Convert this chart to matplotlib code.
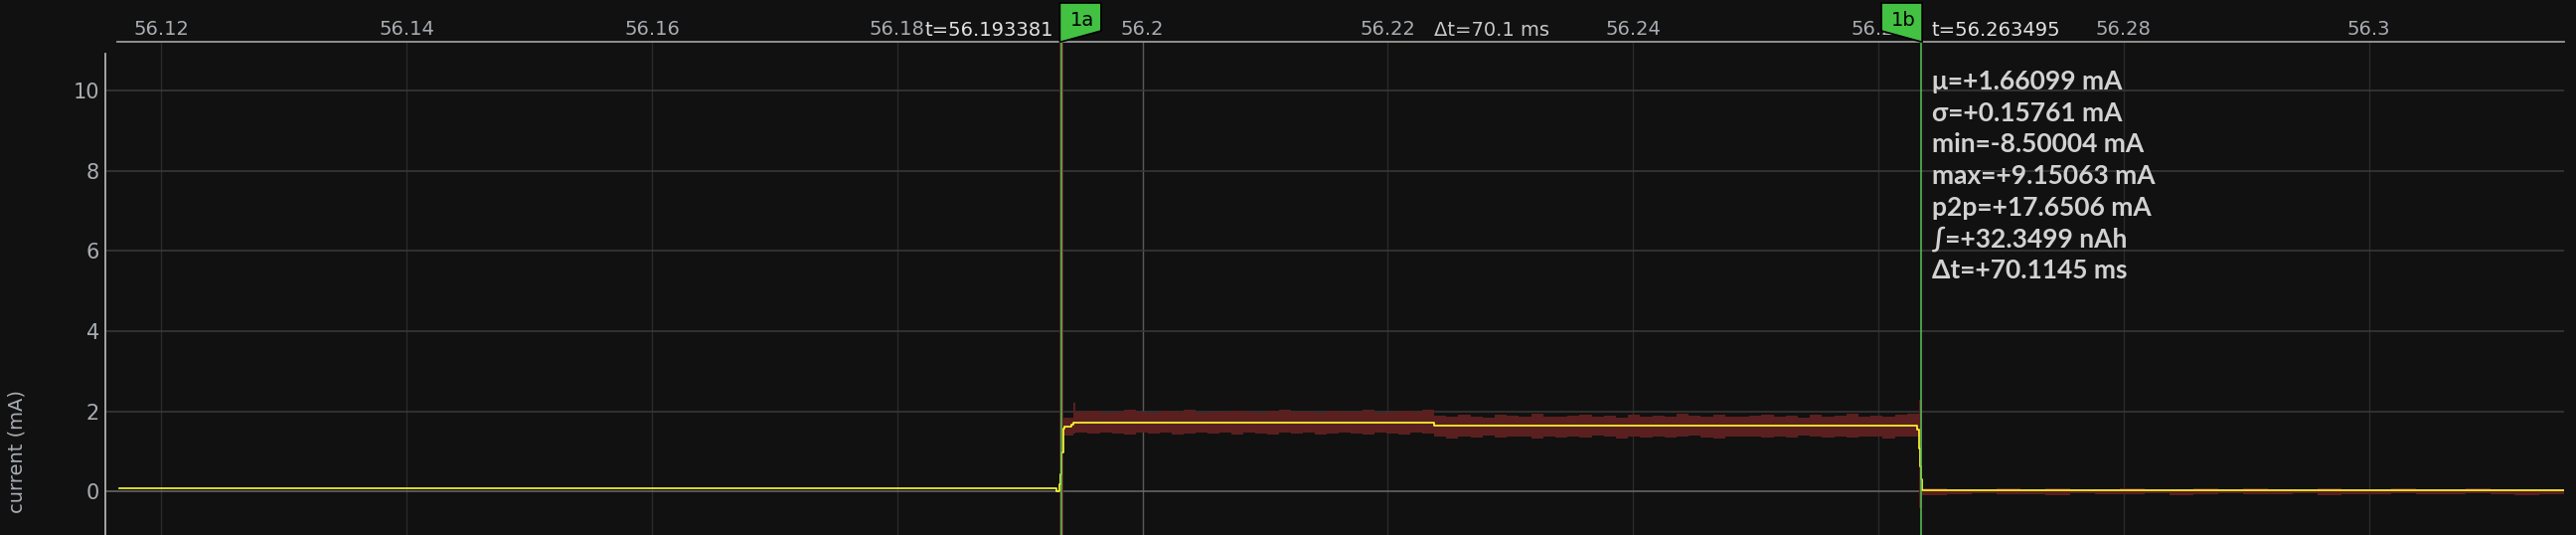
import numpy as np
import matplotlib
matplotlib.use("Agg")
import matplotlib.pyplot as plt
import matplotlib.transforms as mtransforms
from matplotlib.patches import Polygon

# =============================================
# DATA
# =============================================
x_ticks = [56.12, 56.14, 56.16, 56.18, 56.20, 56.22, 56.24, 56.26, 56.28, 56.30]
y_ticks = [0, 2, 4, 6, 8, 10]

cursor_a = 56.193381
cursor_b = 56.263495
cursor_names = ["1a", "1b"]
label_a = "t=56.193381"
label_b = "t=56.263495"
delta_label = "Δt=70.1 ms"

stats = ["μ=+1.66099 mA", "σ=+0.15761 mA", "min=-8.50004 mA", "max=+9.15063 mA",
         "p2p=+17.6506 mA", "∫=+32.3499 nAh", "Δt=+70.1145 ms"]

# averaged current (yellow trace), step-wise
mean_t = [56.11656, 56.19296, 56.19322, 56.19331, 56.19339, 56.19353, 56.19361,
          56.19401, 56.19417, 56.19434, 56.22378, 56.26319, 56.26330, 56.26338,
          56.26346, 56.26353, 56.31592]
mean_ma = [0.075, 0.015, 0.18, 0.42, 0.97, 1.57, 1.63,
           1.61, 1.66, 1.71, 1.64, 1.55, 1.08, 0.63,
           0.30, 0.02, 0.02]

# narrow min/max columns (switching edges)
col_t0 = [56.19322, 56.19355, 56.19434, 56.26332]
col_t1 = [56.19355, 56.19434, 56.19456, 56.26357]
col_lo = [-1.5, 1.40, 1.45, -0.41]
col_hi = [11.5, 1.84, 2.22, 2.30]

# min/max envelope, phase 1 (56.19456 -> 56.22378)
env1_hi = [1.98, 2.02, 1.97, 2.00, 2.04, 1.98, 1.96, 2.01, 1.99, 2.03, 1.97, 2.00,
           1.98, 2.02, 1.99, 1.96, 2.01, 2.03, 1.98, 2.00, 1.97, 2.02, 1.99, 2.00,
           2.04, 1.97, 1.99, 2.01, 1.98, 2.03]
env1_lo = [1.47, 1.44, 1.48, 1.45, 1.43, 1.47, 1.44, 1.46, 1.42, 1.45, 1.48, 1.44,
           1.46, 1.43, 1.47, 1.45, 1.41, 1.46, 1.44, 1.47, 1.43, 1.45, 1.48, 1.44,
           1.42, 1.46, 1.45, 1.43, 1.47, 1.44]
# phase 2 (56.22378 -> 56.26332)
env2_hi = [1.90, 1.86, 1.92, 1.88, 1.85, 1.91, 1.89, 1.87, 1.93, 1.88, 1.86, 1.90,
           1.92, 1.87, 1.89, 1.85, 1.91, 1.88, 1.90, 1.86, 1.93, 1.89, 1.87, 1.91,
           1.88, 1.86, 1.90, 1.92, 1.87, 1.89, 1.85, 1.91, 1.88, 1.90, 1.93, 1.87,
           1.89, 1.86, 1.91, 1.93]
env2_lo = [1.36, 1.33, 1.38, 1.35, 1.39, 1.34, 1.37, 1.36, 1.33, 1.38, 1.35, 1.37,
           1.34, 1.39, 1.36, 1.33, 1.37, 1.35, 1.38, 1.34, 1.36, 1.39, 1.35, 1.33,
           1.37, 1.36, 1.38, 1.34, 1.37, 1.35, 1.39, 1.36, 1.34, 1.37, 1.35, 1.38,
           1.36, 1.33, 1.37, 1.38]
# phase 3 (56.26357 -> 56.31592)
env3_hi = [0.07, 0.05, 0.06, 0.08, 0.05, 0.07, 0.06, 0.05, 0.09, 0.06, 0.05, 0.07,
           0.06, 0.08, 0.05, 0.06, 0.07, 0.05, 0.06, 0.08, 0.06, 0.05, 0.07, 0.06,
           0.05, 0.06]
env3_lo = [-0.08, -0.06, -0.05, -0.07, -0.06, -0.09, -0.05, -0.06, -0.07, -0.05,
           -0.08, -0.06, -0.05, -0.07, -0.06, -0.05, -0.08, -0.06, -0.07, -0.05,
           -0.06, -0.07, -0.05, -0.06, -0.08, -0.06]
env_phases = [(56.19456, 56.22378, env1_hi, env1_lo),
              (56.22378, 56.26332, env2_hi, env2_lo),
              (56.26357, 56.31592, env3_hi, env3_lo)]

# =============================================
# STYLE
# =============================================
bg = "#111111"
env_color = "#5a1f1f"
mean_color = "#ffff33"
cursor_color = "#56c456"
flag_color = "#43c143"
tick_color = "#a9adb2"
dpi = 100

fig = plt.figure(figsize=(25.92, 5.38), dpi=dpi, facecolor=bg)
ax = fig.add_axes([106 / 2592, 0, (2580 - 106) / 2592, 496 / 538])
ax.set_facecolor(bg)
ax.set_xlim(56.115429, 56.315916)
ax.set_ylim(-1.084, 11.22)

# grid
for xt in x_ticks:
    c = "#5a5a5a" if abs(xt - 56.20) < 1e-9 else "#2a2a2a"
    ax.axvline(xt, color=c, lw=1.0, zorder=1)
for yt in y_ticks:
    c = "#6c6c6c" if yt == 0 else "#3a3a3a"
    ax.axhline(yt, color=c, lw=1.1, zorder=1)

# envelope
for t0, t1, hi, lo in env_phases:
    edges = np.linspace(t0, t1, len(hi) + 1)
    ax.fill_between(edges, hi + [hi[-1]], lo + [lo[-1]], step="post",
                    color=env_color, lw=0, zorder=2)
for t0, t1, lo, hi in zip(col_t0, col_t1, col_lo, col_hi):
    ax.fill_between([t0, t1], [lo, lo], [hi, hi], color=env_color, lw=0, zorder=2)

# mean trace
ax.step(mean_t, mean_ma, where="post", color=mean_color, lw=1.2, zorder=3)

# cursors
for cur in [cursor_a, cursor_b]:
    ax.axvline(cur, color=cursor_color, lw=1.1, zorder=4)

# axes / ticks
ax.xaxis.tick_top()
ax.set_xticks(x_ticks)
ax.set_xticklabels([f"{v:g}" for v in x_ticks])
ax.set_yticks(y_ticks)
ax.set_yticklabels([str(v) for v in y_ticks])
ax.tick_params(axis="x", length=0, pad=2, labelsize=14, labelcolor=tick_color)
ax.tick_params(axis="y", length=0, pad=4.5, labelsize=15, labelcolor=tick_color)
for s in ["bottom", "right"]:
    ax.spines[s].set_visible(False)
ax.spines["top"].set_color("#9a9a9a")
ax.spines["top"].set_linewidth(1.3)
ax.spines["top"].set_bounds(56.1164, 56.315916)
ax.spines["left"].set_color("#b0b0b0")
ax.spines["left"].set_linewidth(1.3)
ax.spines["left"].set_bounds(-1.084, 10.93)

fig.text(17 / 2592, 1 - 454 / 538, "current (mA)", rotation=90, ha="center",
         va="center", fontsize=14, color=tick_color)

# cursor time labels
px = 72 / dpi
ax.annotate(label_a, xy=(cursor_a, 1), xycoords=("data", "axes fraction"),
            xytext=(-8 * px, 6 * px), textcoords="offset points",
            ha="right", va="baseline", fontsize=14, color="#e2e2e2")
ax.annotate(label_b, xy=(cursor_b, 1), xycoords=("data", "axes fraction"),
            xytext=(10.5 * px, 6 * px), textcoords="offset points",
            ha="left", va="baseline", fontsize=14, color="#e2e2e2")
ax.annotate(delta_label, xy=((cursor_a + cursor_b) / 2, 1),
            xycoords=("data", "axes fraction"),
            xytext=(0, 6 * px), textcoords="offset points",
            ha="center", va="baseline", fontsize=14, color="#c8c8c8")

# statistics block
for k, line in enumerate(stats):
    ax.annotate(line, xy=(cursor_b, 1), xycoords=("data", "axes fraction"),
                xytext=(10.5 * px, -(48 + k * 31.7) * px), textcoords="offset points",
                ha="left", va="baseline", fontsize=19, fontweight="bold",
                family=["Lato", "DejaVu Sans"], color="#d2d2d2", zorder=6)

# cursor flags
flag_shapes = [[(-1.5, 0), (-1.5, 39), (40, 39), (40, 11), (0, 0)],
               [(1, 0), (1, 39), (-40, 39), (-40, 11), (0, 0)]]
flag_text_off = [(21.5, 22), (-17.5, 22)]
for cur, name, shape, toff in zip([cursor_a, cursor_b], cursor_names,
                                  flag_shapes, flag_text_off):
    x0, _ = ax.transData.transform((cur, 0))
    _, y0 = ax.transAxes.transform((0, 1))
    verts = [(x0 + dx, y0 + dy) for dx, dy in shape]
    poly = Polygon(verts, closed=True, facecolor=flag_color, edgecolor="black",
                   lw=1.2, transform=mtransforms.IdentityTransform(),
                   clip_on=False, zorder=10)
    fig.add_artist(poly)
    fig.text(x0 + toff[0], y0 + toff[1], name, transform=mtransforms.IdentityTransform(),
             ha="center", va="center", fontsize=14, color="black", zorder=11)

fig.savefig("out.png", dpi=dpi, facecolor=bg)
